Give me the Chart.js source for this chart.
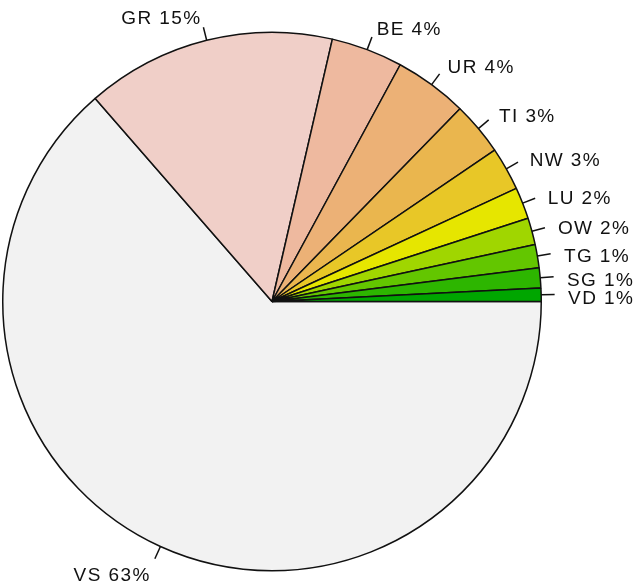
<!DOCTYPE html>
<html>
<head>
<meta charset="utf-8">
<script src="https://cdn.jsdelivr.net/npm/chart.js@4"></script>
<style>
  html, body { margin: 0; padding: 0; background: #ffffff; }
  #wrap { width: 636px; height: 586px; }
</style>
</head>
<body>
<div id="wrap"><canvas id="c" width="636" height="586"></canvas></div>
<script>
// Categories in R pie order (counter-clockwise from 3 o'clock)
const categories = ["VD", "SG", "TG", "OW", "LU", "NW", "TI", "UR", "BE", "GR", "VS"];
// Estimated shares (%)
const shares = [0.8, 1.2, 1.4, 1.6, 1.9, 2.6, 3.2, 4.4, 4.3, 15.0, 63.6];
// Printed labels
const pctLabels = ["1%", "1%", "1%", "2%", "2%", "3%", "3%", "4%", "4%", "15%", "63%"];
// terrain.colors(11)
const colors = ["#00A600", "#2DB600", "#63C600", "#A0D600", "#E6E600", "#E8C727",
                "#EAB64E", "#ECB176", "#EEB99F", "#F0CFC8", "#F2F2F2"];

// Chart.js draws clockwise; reverse so the visual order is counter-clockwise
const rev = a => a.slice().reverse();
const labelsText = categories.map((c, i) => c + " " + pctLabels[i]);

const outsideLabels = {
  id: "outsideLabels",
  afterDatasetsDraw(chart) {
    const ctx = chart.ctx;
    const meta = chart.getDatasetMeta(0);
    const lbls = chart.data.labels;
    ctx.save();
    ctx.strokeStyle = "#111111";
    ctx.lineWidth = 1.5;
    ctx.fillStyle = "#111111";
    ctx.font = "19px 'Liberation Sans', Arial, sans-serif";
    ctx.letterSpacing = "1.4px";
    ctx.textBaseline = "middle";
    meta.data.forEach((arc, i) => {
      const p = arc.getProps(["x", "y", "startAngle", "endAngle", "outerRadius"], true);
      const mid = (p.startAngle + p.endAngle) / 2;
      const c = Math.cos(mid), s = Math.sin(mid);
      const r = p.outerRadius;
      ctx.beginPath();
      ctx.moveTo(p.x + r * c, p.y + r * s);
      ctx.lineTo(p.x + 1.05 * r * c, p.y + 1.05 * r * s);
      ctx.stroke();
      ctx.textAlign = c > 0 ? "left" : "right";
      const tx = p.x + 1.1 * r * c + (c > 0 ? 0 : 1.4);
      ctx.fillText(lbls[i], tx, p.y + 1.1 * r * s + 5);
    });
    ctx.restore();
  }
};

new Chart(document.getElementById("c"), {
  type: "pie",
  data: {
    labels: rev(labelsText),
    datasets: [{
      data: rev(shares),
      backgroundColor: rev(colors),
      borderColor: "#111111",
      borderWidth: 1.5,
      hoverOffset: 0
    }]
  },
  options: {
    responsive: false,
    animation: false,
    rotation: 90,
    layout: { padding: { left: 2, right: 94, top: 31.5, bottom: 14.5 } },
    plugins: {
      legend: { display: false },
      tooltip: { enabled: false }
    }
  },
  plugins: [outsideLabels]
});
</script>
</body>
</html>
